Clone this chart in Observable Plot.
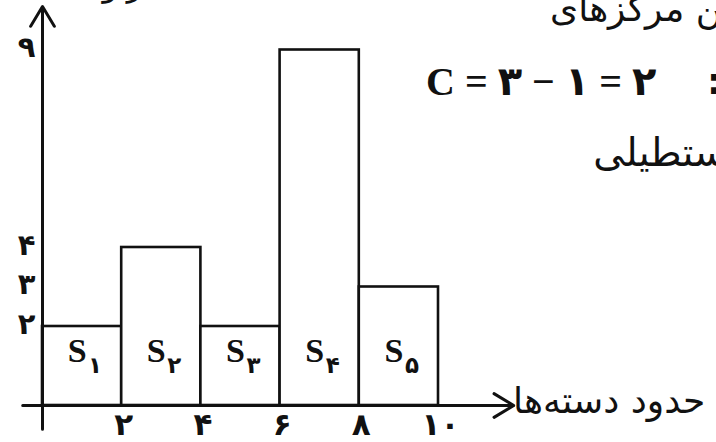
<!DOCTYPE html>
<html><head><meta charset="utf-8">
<script src="https://cdn.jsdelivr.net/npm/d3@7"></script>
<script src="https://cdn.jsdelivr.net/npm/@observablehq/plot@0.6"></script>
<style>
body{margin:0;background:#fff;}
#wrap{position:relative;width:716px;height:442px;overflow:hidden;background:#fff;}
#wrap svg{position:absolute;left:0;top:0;}
.t{position:absolute;white-space:nowrap;color:#111;line-height:1;font-family:"DejaVu Sans";}
</style></head><body>
<div id="wrap"></div>
<script>
// ---- data ----
const binStarts = [0, 2, 4, 6, 8];
const binEnds = [2, 4, 6, 8, 10];
const frequencies = [2, 4, 2, 9, 3];
const barNames = ["S", "S", "S", "S", "S"];
const barSubscripts = ["۱", "۲", "۳", "۴", "۵"];
const xTickValues = [2, 4, 6, 8, 10];
const yTickValues = [2, 3, 4, 9];
const xAxisTitle = "حدود دسته‌ها";
const yAxisTitle = "فراوانی";
const noteLine1 = "بین مرکزهای";
const noteFormula = "C = ۳ − ۱ = ۲";
const noteLine3 = "مستطیلی";

const faDigits = "۰۱۲۳۴۵۶۷۸۹";
const fa = d => String(d).replace(/\d/g, c => faDigits[+c]);

const bins = binStarts.map((x1, i) => ({x1, x2: binEnds[i], y: frequencies[i], name: barNames[i], sub: barSubscripts[i]}));
const mid = d => (d.x1 + d.x2) / 2;

const chart = Plot.plot({
  width: 716, height: 442,
  marginLeft: 42, marginRight: 278, marginTop: 49.5, marginBottom: 37,
  style: {background: "white", color: "#111", fontFamily: "DejaVu Sans", overflow: "visible"},
  x: {domain: [0, 10]},
  y: {domain: [0, 9]},
  marks: [
    Plot.rectY(bins, {x1: "x1", x2: "x2", y: "y", fill: "white", stroke: "#111", strokeWidth: 2.6, inset: 0}),
    Plot.arrow([0], {x1: 0, x2: 0, y1: -0.6, y2: 10.1, stroke: "#111", strokeWidth: 3, headLength: 11.5, headAngle: 62}),
    Plot.arrow([0], {x1: -0.5, x2: 11.9, y1: 0, y2: 0, stroke: "#111", strokeWidth: 3, headLength: 11.5, headAngle: 62}),
    Plot.axisX({ticks: xTickValues, tickFormat: fa, tickSize: 0, tickPadding: 7, fontSize: 31, fontWeight: "bold", dx: 2, label: null}),
    Plot.axisY({ticks: yTickValues, tickFormat: fa, tickSize: 0, tickPadding: 7, fontSize: 29, fontWeight: "bold", dy: -2, label: null}),
    Plot.text(bins, {x: mid, frameAnchor: "bottom", dy: -44, dx: -5, text: "name", fontFamily: "Liberation Serif", fontWeight: "bold", fontSize: 34, fill: "#111"}),
    Plot.text(bins, {x: mid, frameAnchor: "bottom", dy: -33, dx: 13, text: "sub", fontFamily: "DejaVu Sans", fontWeight: "bold", fontSize: 23, fill: "#111"})
  ]
});
const wrap = document.getElementById("wrap");
wrap.appendChild(chart);

function addText(txt, style, dir) {
  const d = document.createElement("div");
  d.className = "t";
  d.textContent = txt;
  if (dir) d.dir = dir;
  Object.assign(d.style, style);
  wrap.appendChild(d);
}
addText(yAxisTitle, {left: "58px", top: "-31px", fontSize: "32px"}, "rtl");
addText(noteLine1, {right: "-28px", top: "-9px", fontSize: "36px"}, "rtl");
addText(noteFormula, {left: "426px", top: "62px", fontSize: "40px", fontFamily: "'Liberation Serif', 'DejaVu Sans'", fontWeight: "bold"}, "ltr");
addText(":", {left: "707px", top: "64px", fontSize: "36px", fontWeight: "bold"}, "ltr");
addText(noteLine3, {right: "-34px", top: "133px", fontSize: "39px"}, "rtl");
addText(xAxisTitle, {left: "513px", top: "383px", fontSize: "36px"}, "rtl");
</script>
</body></html>
